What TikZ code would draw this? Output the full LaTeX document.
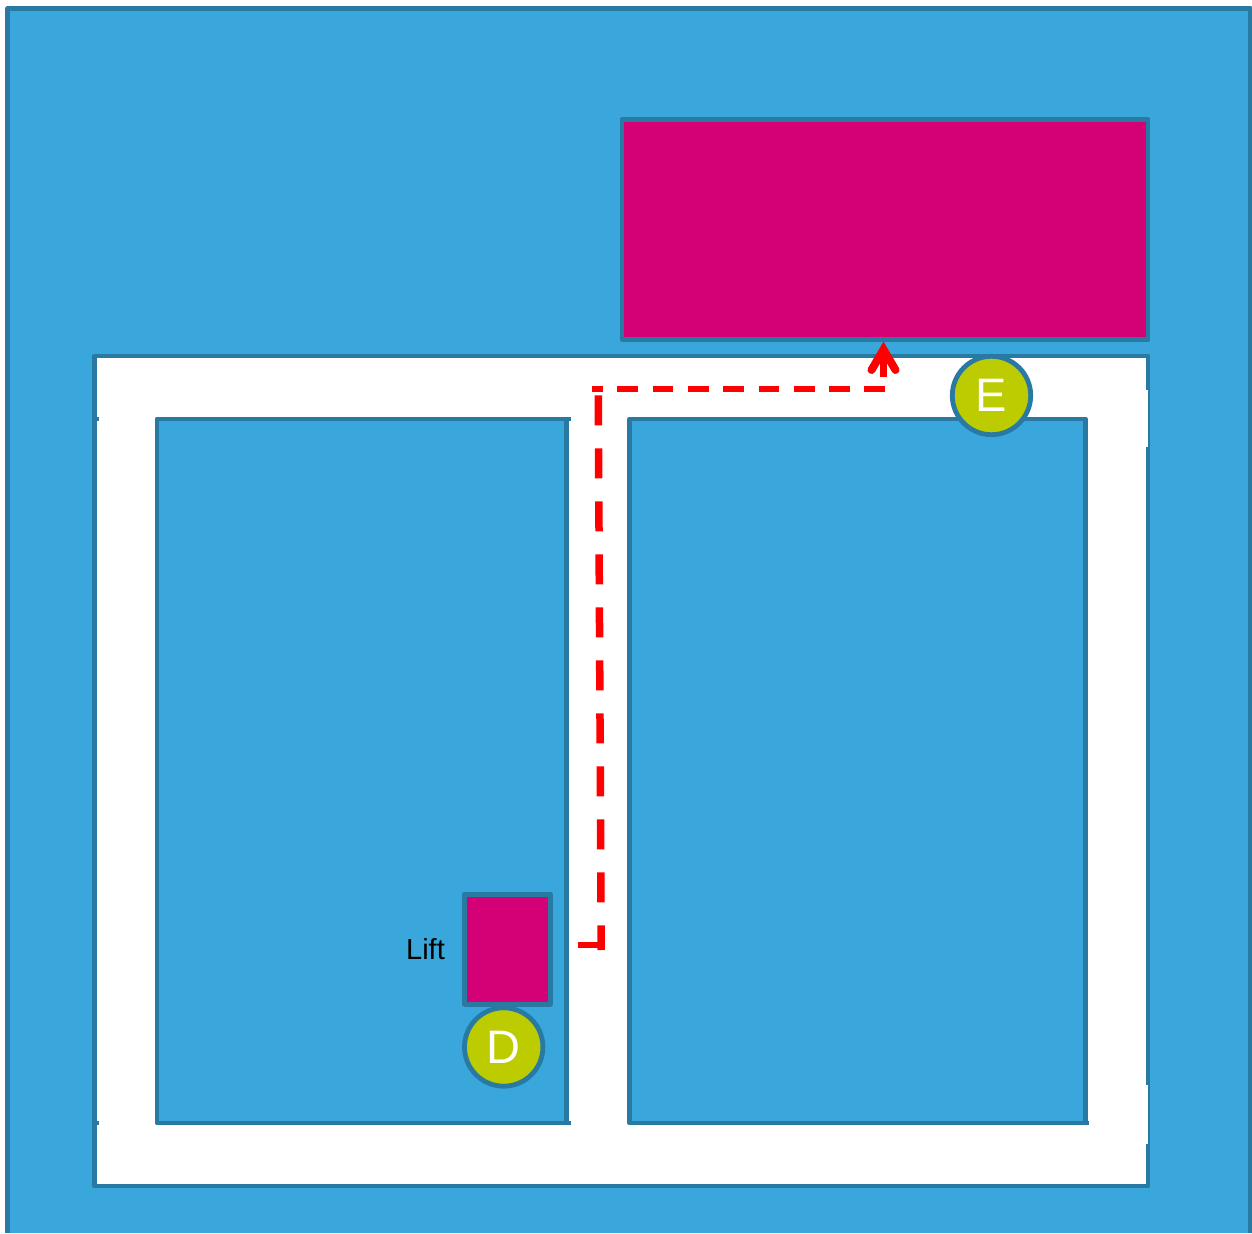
\documentclass[tikz,border=0pt]{standalone}
\usepackage{fontspec}
\setmainfont{Liberation Sans}
\definecolor{skyfill}{HTML}{39A7DB}
\definecolor{edgeblue}{HTML}{287AA2}
\definecolor{magentafill}{HTML}{D40075}
\definecolor{olivefill}{HTML}{BDCC00}
\definecolor{routered}{HTML}{FF0000}
\tikzset{
  px/.style={x=0.5pt,y=-0.5pt},
  areabox/.style={draw=edgeblue,line width=2.4pt,line join=round},
  skybox/.style={areabox,fill=skyfill},
  magentabox/.style={areabox,fill=magentafill},
  whitebox/.style={areabox,fill=white},
  tickline/.style={draw=edgeblue,line width=2.1pt},
  patch/.style={fill=white,draw=none},
  marker/.style={circle,draw=edgeblue,line width=2.4pt,fill=olivefill,minimum size=39.2pt,inner sep=0pt,text=white,font=\fontsize{23.5}{24}\selectfont},
  liftlabel/.style={text=black,font=\fontsize{14.5}{15}\selectfont,inner sep=0pt},
  routev/.style={draw=routered,line width=3.75pt,dash pattern=on 15pt off 11.5pt},
  routeh/.style={draw=routered,line width=2.6pt,dash pattern=on 10.35pt off 7.3pt,dash phase=4.85pt},
  routeend/.style={draw=routered,line width=2.6pt},
  arrowpart/.style={draw=routered,line width=4pt,line cap=round,line join=miter},
}
\begin{document}
\begin{tikzpicture}[px]
\useasboundingbox (0,0) rectangle (1252,1234);
\begin{scope}
\clip (0,0) rectangle (1252,1234);
% building
\fill[skyfill] (7.5,8.5) rectangle (1250.5,1233);
\draw[areabox] (7.5,1233) -- (7.5,8.5) -- (1250.5,8.5) -- (1250.5,1233);
\end{scope}
% large magenta room
\draw[magentabox] (622,119.5) rectangle (1148,339.5);
% corridors
\draw[whitebox] (94.5,356) rectangle (1148,1186);
% blocks
\draw[skybox] (157,419) rectangle (566.5,1123);
\draw[skybox] (629.5,419) rectangle (1085.5,1123);
% small overhangs
\draw[tickline] (94.5,419) -- (98.5,419);
\draw[tickline] (94.5,1123) -- (98.5,1123);
\draw[tickline] (566,419) -- (570.5,419);
\draw[tickline] (566,1123) -- (570.5,1123);
\draw[tickline] (1085,1123) -- (1089,1123);
% white patches on the right wall
\fill[patch] (1144,390) rectangle (1148.3,447);
\fill[patch] (1144,1085) rectangle (1148.3,1144);
% lift
\node[magentabox,minimum width=42.8pt,minimum height=55.1pt,inner sep=0pt] (lift) at (507.5,949.2) {};
\node[liftlabel] (lifttext) at (425.5,949) {Lift};
% markers
\node[marker] (D) at (503.7,1047) {D};
\node[marker] (E) at (991.5,395.5) {E};
% route
\coordinate (r0) at (578,945);
\coordinate (r1) at (605,945);
\coordinate (r2) at (601.2,950);
\coordinate (r3) at (598.3,395.3);
\coordinate (r4) at (591.7,389);
\coordinate (r5) at (884.7,389);
\coordinate (r6) at (883.5,377);
\coordinate (tip) at (883.5,349.5);
\coordinate (wl) at (871.5,370);
\coordinate (wr) at (895.5,370);
\path[routev] (r3) -- (r2);
\path[routeend] (r0) -- (r1);
\path[routeh] (r4) -- (r5);
\draw[draw=routered,line width=3.6pt] (r6) -- (tip);
\path[arrowpart] (wl) -- (tip) -- (wr);
\end{tikzpicture}
\end{document}
